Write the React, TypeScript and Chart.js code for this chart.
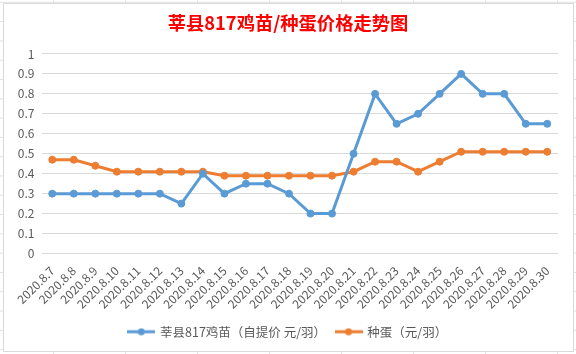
import React, { useEffect, useRef } from "react";
import { Chart, registerables } from "chart.js";

Chart.register(...registerables);

const titleText = "莘县817鸡苗/种蛋价格走势图";
const categories = [
  "2020.8.7", "2020.8.8", "2020.8.9", "2020.8.10", "2020.8.11", "2020.8.12",
  "2020.8.13", "2020.8.14", "2020.8.15", "2020.8.16", "2020.8.17", "2020.8.18",
  "2020.8.19", "2020.8.20", "2020.8.21", "2020.8.22", "2020.8.23", "2020.8.24",
  "2020.8.25", "2020.8.26", "2020.8.27", "2020.8.28", "2020.8.29", "2020.8.30",
];
const chickName = "莘县817鸡苗（自提价 元/羽）";
const chickPrices = [
  0.3, 0.3, 0.3, 0.3, 0.3, 0.3, 0.25, 0.4, 0.3, 0.35, 0.35, 0.3,
  0.2, 0.2, 0.5, 0.8, 0.65, 0.7, 0.8, 0.9, 0.8, 0.8, 0.65, 0.65,
];
const eggName = "种蛋（元/羽）";
const eggPrices = [
  0.47, 0.47, 0.44, 0.41, 0.41, 0.41, 0.41, 0.41, 0.39, 0.39, 0.39, 0.39,
  0.39, 0.39, 0.41, 0.46, 0.46, 0.41, 0.46, 0.51, 0.51, 0.51, 0.51, 0.51,
];
const yTickLabels = ["0", "0.1", "0.2", "0.3", "0.4", "0.5", "0.6", "0.7", "0.8", "0.9", "1"];

const BLUE = "#5B9BD5";
const ORANGE = "#ED7D31";
const TEXT = "#595959";
const GRID = "#D9D9D9";
const FONT = "'Noto Sans CJK SC', 'Noto Sans', sans-serif";

function legendIcon(color: string): HTMLCanvasElement {
  const c = document.createElement("canvas");
  c.width = 28;
  c.height = 8;
  const ctx = c.getContext("2d")!;
  ctx.strokeStyle = color;
  ctx.lineWidth = 3;
  ctx.beginPath();
  ctx.moveTo(0, 4);
  ctx.lineTo(28, 4);
  ctx.stroke();
  ctx.fillStyle = color;
  ctx.beginPath();
  ctx.arc(14, 4, 3.5, 0, Math.PI * 2);
  ctx.fill();
  return c;
}

export default function App() {
  const ref = useRef<HTMLCanvasElement | null>(null);

  useEffect(() => {
    document.body.style.margin = "0";
    if (!ref.current) return;
    const icons = [legendIcon(BLUE), legendIcon(ORANGE)];
    const chart = new Chart(ref.current, {
      type: "line",
      data: {
        labels: categories,
        datasets: [
          {
            label: chickName,
            data: chickPrices,
            borderColor: BLUE,
            backgroundColor: BLUE,
            borderWidth: 3,
            pointRadius: 3.5,
            pointBorderWidth: 1,
            pointBackgroundColor: BLUE,
            pointBorderColor: BLUE,
            tension: 0,
          },
          {
            label: eggName,
            data: eggPrices,
            borderColor: ORANGE,
            backgroundColor: ORANGE,
            borderWidth: 3,
            pointRadius: 3.5,
            pointBorderWidth: 1,
            pointBackgroundColor: ORANGE,
            pointBorderColor: ORANGE,
            tension: 0,
          },
        ],
      },
      options: {
        animation: false,
        responsive: false,
        maintainAspectRatio: false,
        layout: { padding: { left: 0, right: 0, top: 0, bottom: 6 } },
        plugins: {
          title: {
            display: true,
            text: titleText,
            color: "#FF0000",
            font: { family: FONT, size: 18.3, weight: "bold", lineHeight: 1.2 },
            padding: { top: 12, bottom: 20 },
          },
          legend: {
            position: "bottom",
            labels: {
              color: TEXT,
              font: { family: FONT, size: 12.5 },
              usePointStyle: true,
              pointStyleWidth: 25,
              padding: 10,
              generateLabels: (ch: any) => {
                const base = Chart.defaults.plugins.legend.labels.generateLabels(ch);
                return base.map((l: any, i: number) => ({ ...l, pointStyle: icons[i] }));
              },
            },
          },
          tooltip: { enabled: false },
        },
        scales: {
          x: {
            offset: true,
            grid: { display: false, offset: true },
            border: { display: false },
            ticks: {
              color: TEXT,
              font: { family: FONT, size: 12 },
              minRotation: 45,
              maxRotation: 45,
              autoSkip: false,
              padding: 2,
            },
            afterFit: (s: any) => {
              s.height = 62;
            },
          },
          y: {
            min: 0,
            max: 1,
            grid: { color: GRID, lineWidth: 1, drawTicks: false },
            border: { display: false },
            ticks: {
              stepSize: 0.1,
              color: TEXT,
              padding: 7,
              font: { family: FONT, size: 12 },
              callback: (_v: any, i: number) => yTickLabels[i],
            },
            afterFit: (s: any) => {
              s.width = 41.5;
            },
          },
          yRight: {
            position: "right",
            min: 0,
            max: 1,
            grid: { display: false, drawTicks: false },
            border: { display: false },
            ticks: { display: false },
            afterFit: (s: any) => {
              s.width = 18;
            },
          },
        },
      },
    });
    return () => chart.destroy();
  }, []);

  return (
    <div
      style={{
        position: "relative",
        width: 576,
        height: 354,
        backgroundColor: "#fff",
        backgroundImage:
          "linear-gradient(to right, #e1e1e1 1px, transparent 1px), linear-gradient(to bottom, #e1e1e1 1px, transparent 1px)",
        backgroundSize: "72px 100%, 100% 19.3px",
        backgroundPosition: "53px 0, 0 1.8px",
      }}
    >
      <div
        style={{
          position: "absolute",
          left: 3,
          top: 3,
          width: 569,
          height: 347,
          border: "1px solid #d9d9d9",
          background: "#fff",
        }}
      />
      <canvas
        ref={ref}
        width={576}
        height={354}
        style={{ position: "absolute", left: 0, top: 0, width: 576, height: 354 }}
      />
    </div>
  );
}
